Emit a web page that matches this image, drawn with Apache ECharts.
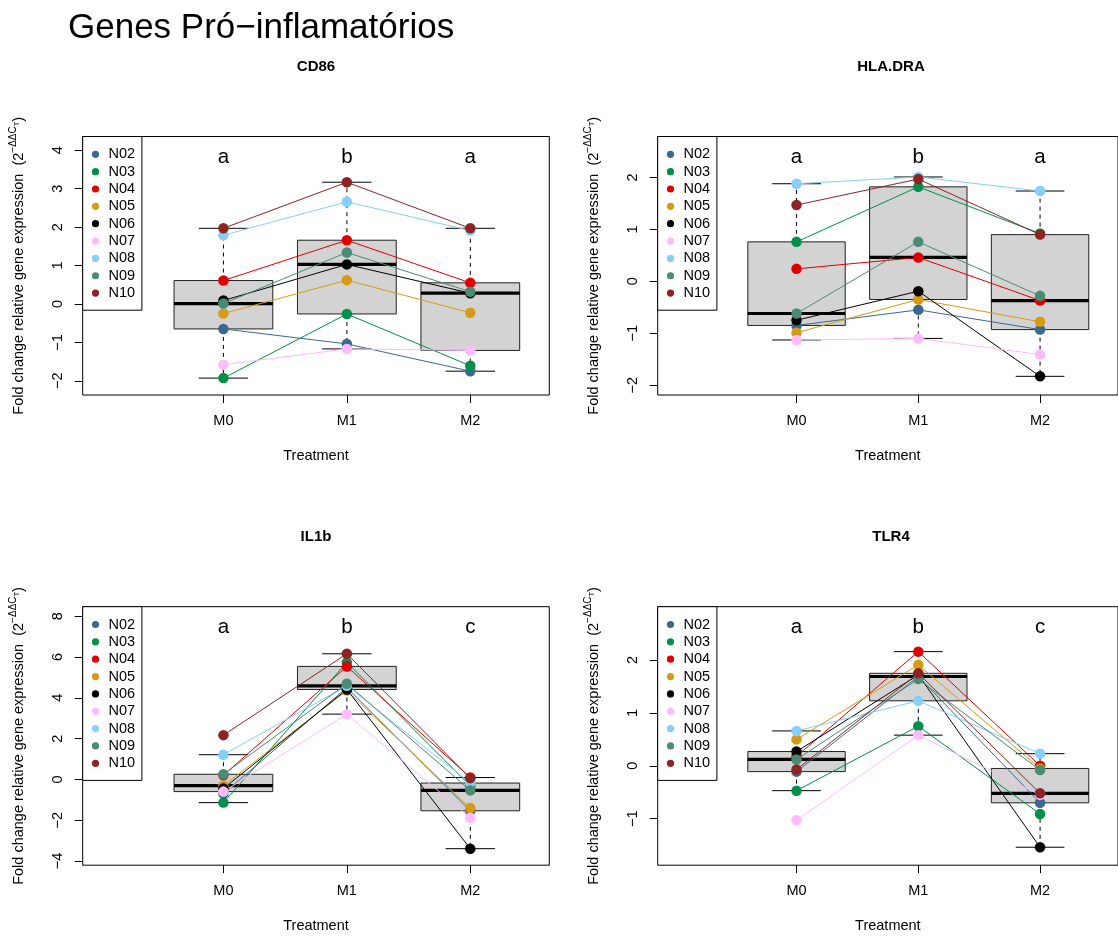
<!DOCTYPE html>
<html>
<head>
<meta charset="utf-8">
<title>Genes Pró-inflamatórios</title>
<script src="https://cdn.jsdelivr.net/npm/echarts@6/dist/echarts.min.js"></script>
<style>
  html, body { margin: 0; padding: 0; background: #ffffff; }
  #chart { width: 1118px; height: 936px; }
</style>
</head>
<body>
<div id="chart"></div>
<script>
// ---- data -------------------------------------------------------------
const timepoints = ['M0', 'M1', 'M2'];
const individuals = ['N02', 'N03', 'N04', 'N05', 'N06', 'N07', 'N08', 'N09', 'N10'];
const individualColors = ['#3A6893', '#00904A', '#E00000', '#D69B13', '#000000',
                          '#FFBBFF', '#87CEFA', '#4A8B73', '#8C2424'];

// fold change (2^-ddCt) per individual, columns M0, M1, M2
const cd86 = [
  [-0.65, -1.04, -1.75],
  [-1.93, -0.26, -1.61],
  [ 0.61,  1.66,  0.55],
  [-0.25,  0.62, -0.23],
  [ 0.09,  1.03,  0.28],
  [-1.58, -1.17, -1.21],
  [ 1.79,  2.66,  1.91],
  [ 0.01,  1.34,  0.32],
  [ 1.97,  3.17,  1.97]
];
const hlaDra = [
  [-0.85, -0.55, -0.93],
  [ 0.76,  1.82,  0.92],
  [ 0.24,  0.46, -0.37],
  [-0.99, -0.35, -0.78],
  [-0.75, -0.19, -1.83],
  [-1.13, -1.10, -1.41],
  [ 1.88,  2.01,  1.74],
  [-0.62,  0.76, -0.28],
  [ 1.47,  1.97,  0.90]
];
const il1b = [
  [-0.70,  4.50, -1.54],
  [-1.14,  5.74, -0.32],
  [ 0.20,  5.54,  0.09],
  [-0.31,  4.36, -1.41],
  [-0.45,  4.41, -3.40],
  [-0.60,  3.20, -1.88],
  [ 1.21,  4.59, -0.18],
  [ 0.25,  4.69, -0.54],
  [ 2.17,  6.16,  0.06]
];
const tlr4 = [
  [-0.11,  1.69, -0.70],
  [-0.47,  0.75, -0.91],
  [ 0.18,  2.16,  0.00],
  [ 0.50,  1.91, -0.05],
  [ 0.27,  1.72, -1.54],
  [-1.03,  0.58, -0.55],
  [ 0.66,  1.23,  0.23],
  [ 0.12,  1.64, -0.08],
  [-0.07,  1.75, -0.52]
];

// significance groups per time point
const cd86Letters = ['a', 'b', 'a'];
const hlaDraLetters = ['a', 'b', 'a'];
const il1bLetters = ['a', 'b', 'c'];
const tlr4Letters = ['a', 'b', 'c'];

// y tick labels
const cd86Ticks = [-2, -1, 0, 1, 2, 3, 4];
const hlaDraTicks = [-2, -1, 0, 1, 2];
const il1bTicks = [-4, -2, 0, 2, 4, 6, 8];
const tlr4Ticks = [-1, 0, 1, 2];

// ---- layout -----------------------------------------------------------
const FONT = '"Liberation Sans", Arial, Helvetica, sans-serif';
const PW = 466.6, PH = 258.5;
const X_MIN = -0.14, X_MAX = 3.64;

const panels = [
  { gene: 'CD86',    values: cd86,   letters: cd86Letters,   ticks: cd86Ticks,   yMin: -2.37, yMax: 4.36, left: 82.7,  top: 136.5 },
  { gene: 'HLA.DRA', values: hlaDra, letters: hlaDraLetters, ticks: hlaDraTicks, yMin: -2.19, yMax: 2.79, left: 657.7, top: 136.5 },
  { gene: 'IL1b',    values: il1b,   letters: il1bLetters,   ticks: il1bTicks,   yMin: -4.21, yMax: 8.47, left: 82.7,  top: 606.7 },
  { gene: 'TLR4',    values: tlr4,   letters: tlr4Letters,   ticks: tlr4Ticks,   yMin: -1.88, yMax: 3.01, left: 657.7, top: 606.7 }
];

// Tukey five-number summary and whisker limits (coef 1.5)
function fivenum(x) {
  const s = x.slice().sort((a, b) => a - b);
  const n = s.length;
  const n4 = Math.floor((n + 3) / 2) / 2;
  const d = [1, n4, (n + 1) / 2, n + 1 - n4, n];
  return d.map(v => 0.5 * (s[Math.floor(v) - 1] + s[Math.ceil(v) - 1]));
}
function boxStats(x) {
  const f = fivenum(x);
  const lo = f[1], med = f[2], hi = f[3];
  const iqr = hi - lo;
  const inside = x.filter(v => v >= lo - 1.5 * iqr && v <= hi + 1.5 * iqr);
  const out = x.filter(v => v < lo - 1.5 * iqr || v > hi + 1.5 * iqr);
  return { lowW: Math.min(...inside), lo, med, hi, highW: Math.max(...inside), out };
}

const minusFmt = v => String(v).replace('-', '\u2212');
const BOX_HALF = 0.4, CAP_HALF = 0.2;

const grids = [], xAxes = [], yAxes = [], series = [];

panels.forEach((p, i) => {
  grids.push({
    left: p.left, top: p.top, width: PW, height: PH,
    show: true, borderColor: '#000', borderWidth: 1, backgroundColor: 'transparent'
  });
  xAxes.push({
    type: 'value', gridIndex: i, min: X_MIN, max: X_MAX, position: 'bottom',
    axisLine: { show: false, onZero: false }, splitLine: { show: false },
    axisTick: { show: true, customValues: [1, 2, 3], length: 8, lineStyle: { color: '#000', width: 1 } },
    axisLabel: {
      customValues: [1, 2, 3], formatter: v => timepoints[Math.round(v) - 1],
      color: '#000', fontSize: 14.5, fontFamily: FONT, margin: 18
    },
    name: 'Treatment', nameLocation: 'middle', nameGap: 53,
    nameTextStyle: { color: '#000', fontSize: 14.5, fontFamily: FONT }
  });
  yAxes.push({
    type: 'value', gridIndex: i, min: p.yMin, max: p.yMax, position: 'left',
    axisLine: { show: false, onZero: false }, splitLine: { show: false },
    axisTick: { show: true, customValues: p.ticks, length: 8, lineStyle: { color: '#000', width: 1 } },
    axisLabel: {
      customValues: p.ticks, rotate: 90, formatter: minusFmt,
      color: '#000', fontSize: 14.5, fontFamily: FONT, margin: 17
    }
  });

  // one column of values per time point
  const columns = timepoints.map((t, k) => p.values.map(row => row[k]));
  const stats = columns.map(boxStats);

  series.push({
    type: 'custom', name: p.gene + ' boxplot', xAxisIndex: i, yAxisIndex: i,
    silent: true, z: 1,
    data: stats.map((s, k) => [k + 1, s.lowW, s.lo, s.med, s.hi, s.highW]),
    renderItem: (params, api) => {
      const x = api.value(0);
      const lowW = api.value(1), lo = api.value(2), med = api.value(3), hi = api.value(4), highW = api.value(5);
      const tl = api.coord([x - BOX_HALF, hi]);
      const br = api.coord([x + BOX_HALF, lo]);
      const pt = v => api.coord([x, v]);
      const children = [
        { type: 'line', shape: { x1: pt(lo)[0], y1: pt(lo)[1], x2: pt(lowW)[0], y2: pt(lowW)[1] },
          style: { stroke: '#000', lineWidth: 1, lineDash: [4, 4] } },
        { type: 'line', shape: { x1: pt(hi)[0], y1: pt(hi)[1], x2: pt(highW)[0], y2: pt(highW)[1] },
          style: { stroke: '#000', lineWidth: 1, lineDash: [4, 4] } },
        { type: 'line', shape: { x1: api.coord([x - CAP_HALF, lowW])[0], y1: pt(lowW)[1], x2: api.coord([x + CAP_HALF, lowW])[0], y2: pt(lowW)[1] },
          style: { stroke: '#000', lineWidth: 1 } },
        { type: 'line', shape: { x1: api.coord([x - CAP_HALF, highW])[0], y1: pt(highW)[1], x2: api.coord([x + CAP_HALF, highW])[0], y2: pt(highW)[1] },
          style: { stroke: '#000', lineWidth: 1 } },
        { type: 'rect', shape: { x: tl[0], y: tl[1], width: br[0] - tl[0], height: br[1] - tl[1] },
          style: { fill: '#D3D3D3', stroke: '#222', lineWidth: 1 } },
        { type: 'line', shape: { x1: tl[0], y1: pt(med)[1], x2: br[0], y2: pt(med)[1] },
          style: { stroke: '#000', lineWidth: 3.2 } }
      ];
      stats[params.dataIndex].out.forEach(v => {
        const c = pt(v);
        children.push({ type: 'circle', shape: { cx: c[0], cy: c[1], r: 3.5 }, style: { fill: 'none', stroke: '#000', lineWidth: 1 } });
      });
      return { type: 'group', children };
    }
  });

  individuals.forEach((name, j) => {
    series.push({
      type: 'line', name, xAxisIndex: i, yAxisIndex: i, silent: true, z: 2,
      data: p.values[j].map((v, k) => [k + 1, v]),
      symbol: 'circle', symbolSize: 10.5, showAllSymbol: true,
      lineStyle: { color: individualColors[j], width: 1 },
      itemStyle: { color: individualColors[j] },
      emphasis: { disabled: true }
    });
  });
});

const chart = echarts.init(document.getElementById('chart'), null, { renderer: 'canvas' });
chart.setOption({
  animation: false,
  backgroundColor: '#ffffff',
  grid: grids, xAxis: xAxes, yAxis: yAxes, series
});

// ---- titles, group letters, legends and y-axis titles ----------------
const graphics = [{
  type: 'text', x: 68, y: 28.5, z: 100,
  style: { text: 'Genes Pró\u2212inflamatórios', fontSize: 35, fontFamily: FONT, fill: '#000', align: 'left', verticalAlign: 'middle' }
}];

const LEG_W = 59.2, LEG_H = 173.7, LEG_ROW = 17.35;

panels.forEach((p, i) => {
  const cx = p.left + PW / 2;
  graphics.push({
    type: 'text', x: cx, y: p.top - 69.5, z: 100,
    style: { text: p.gene, fontSize: 15, fontWeight: 'bold', fontFamily: FONT, fill: '#000', align: 'center', verticalAlign: 'middle' }
  });

  p.letters.forEach((letter, k) => {
    const px = chart.convertToPixel({ xAxisIndex: i }, k + 1);
    graphics.push({
      type: 'text', x: px, y: p.top + 21, z: 100,
      style: { text: letter, fontSize: 20.5, fontFamily: FONT, fill: '#000', align: 'center', verticalAlign: 'middle' }
    });
  });

  graphics.push({
    type: 'rect', z: 100,
    shape: { x: p.left, y: p.top, width: LEG_W, height: LEG_H },
    style: { fill: '#ffffff', stroke: '#000', lineWidth: 1 }
  });
  individuals.forEach((name, j) => {
    const y = p.top + 17.8 + j * LEG_ROW;
    graphics.push({
      type: 'circle', z: 101, shape: { cx: p.left + 12.8, cy: y, r: 3.6 },
      style: { fill: individualColors[j] }
    });
    graphics.push({
      type: 'text', z: 101, x: p.left + 25.8, y,
      style: { text: name, fontSize: 14.5, fontFamily: FONT, fill: '#000', align: 'left', verticalAlign: 'middle' }
    });
  });

  graphics.push({
    type: 'text', z: 100, x: p.left - 63.5, y: p.top + PH / 2, rotation: Math.PI / 2,
    style: {
      text: 'Fold change relative gene expression  (2{sup|\u2212\u0394\u0394C}{sub|T}{base|)}',
      fontSize: 14.5, fontFamily: FONT, fill: '#000', align: 'center', verticalAlign: 'middle',
      rich: {
        base: { fontSize: 14.5, fontFamily: FONT, fill: '#000' },
        sup: { fontSize: 10, fontFamily: FONT, fill: '#000', padding: [0, 0, 12, 0] },
        sub: { fontSize: 7.5, fontFamily: FONT, fill: '#000', padding: [0, 0, 4, 0] }
      }
    }
  });
});

chart.setOption({ graphic: graphics });
</script>
</body>
</html>
